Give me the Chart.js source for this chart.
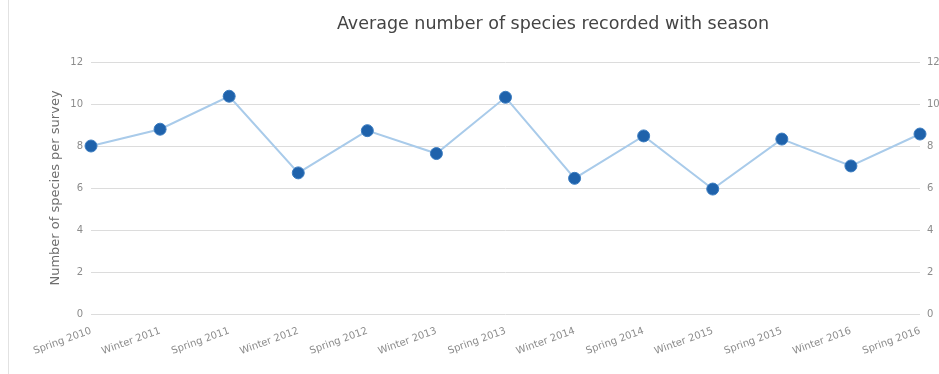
<!DOCTYPE html>
<html>
<head>
<meta charset="utf-8">
<script src="https://cdn.jsdelivr.net/npm/chart.js@4.4.1/dist/chart.umd.min.js"></script>
<style>
  html, body { margin: 0; padding: 0; background: #fff; }
  #wrap { position: relative; width: 939px; height: 374px; }
  #frame { position: absolute; left: 8px; top: 0; width: 1px; height: 374px; background: #e2e2e2; }
  canvas { position: absolute; left: 0; top: 0; }
</style>
</head>
<body>
<div id="wrap">
  <div id="frame"></div>
  <canvas id="chart" width="939" height="374"></canvas>
</div>
<script>
// Survey seasons and mean species count per survey
const seasons = [
  'Spring 2010', 'Winter 2011', 'Spring 2011', 'Winter 2012', 'Spring 2012',
  'Winter 2013', 'Spring 2013', 'Winter 2014', 'Spring 2014', 'Winter 2015',
  'Spring 2015', 'Winter 2016', 'Spring 2016'
];
const avgSpecies = [8.0, 8.8, 10.37, 6.72, 8.73, 7.64, 10.32, 6.46, 8.48, 5.95, 8.33, 7.05, 8.57];
const yTicks = [0, 2, 4, 6, 8, 10, 12];

const chartTitle = 'Average number of species recorded with season';
const yAxisTitle = 'Number of species per survey';

const fontFamily = '"DejaVu Sans", Verdana, sans-serif';
const tickFont = { family: fontFamily, size: 10 };
const tickColor = '#8c8c8c';

// Title drawn above the plot
const titlePlugin = {
  id: 'centeredTitle',
  afterDraw(chart) {
    const ctx = chart.ctx;
    ctx.save();
    ctx.font = '17.5px ' + fontFamily;
    ctx.fillStyle = '#444';
    ctx.textAlign = 'center';
    ctx.textBaseline = 'middle';
    ctx.fillText(chartTitle, 553, 24);
    ctx.restore();
  }
};

new Chart(document.getElementById('chart'), {
  type: 'line',
  data: {
    labels: seasons,
    datasets: [{
      data: avgSpecies,
      borderColor: '#a9cbea',
      borderWidth: 2,
      pointRadius: 6,
      pointHoverRadius: 6,
      pointBackgroundColor: '#1f62ab',
      pointBorderColor: '#3b7cc0',
      pointBorderWidth: 1,
      tension: 0,
      yAxisID: 'y'
    }]
  },
  options: {
    responsive: false,
    animation: false,
    layout: { padding: { top: 62, left: 45, right: 0, bottom: 0 } },
    plugins: {
      legend: { display: false },
      title: { display: false },
      tooltip: { enabled: false }
    },
    scales: {
      x: {
        offset: false,
        grid: { display: false },
        border: { display: false },
        ticks: {
          autoSkip: false,
          minRotation: 20,
          maxRotation: 20,
          padding: 3,
          font: tickFont,
          color: tickColor
        },
        afterFit(scale) { scale.height = 60; }
      },
      y: {
        position: 'left',
        min: 0, max: 12,
        afterBuildTicks(scale) { scale.ticks = yTicks.map(v => ({ value: v })); },
        grid: { color: '#dcdcdc', lineWidth: 1, drawTicks: false },
        border: { display: false },
        ticks: { padding: 8, font: tickFont, color: tickColor },
        title: {
          display: true,
          text: yAxisTitle,
          color: '#6e6e6e',
          font: { family: fontFamily, size: 13 },
          padding: { top: 3, bottom: 0 }
        },
        afterFit(scale) { scale.width = 46; }
      },
      y2: {
        position: 'right',
        min: 0, max: 12,
        afterBuildTicks(scale) { scale.ticks = yTicks.map(v => ({ value: v })); },
        grid: { display: false, drawTicks: false },
        border: { display: false },
        ticks: { padding: 7, font: tickFont, color: tickColor },
        afterFit(scale) { scale.width = 19; }
      }
    }
  },
  plugins: [titlePlugin]
});
</script>
</body>
</html>
